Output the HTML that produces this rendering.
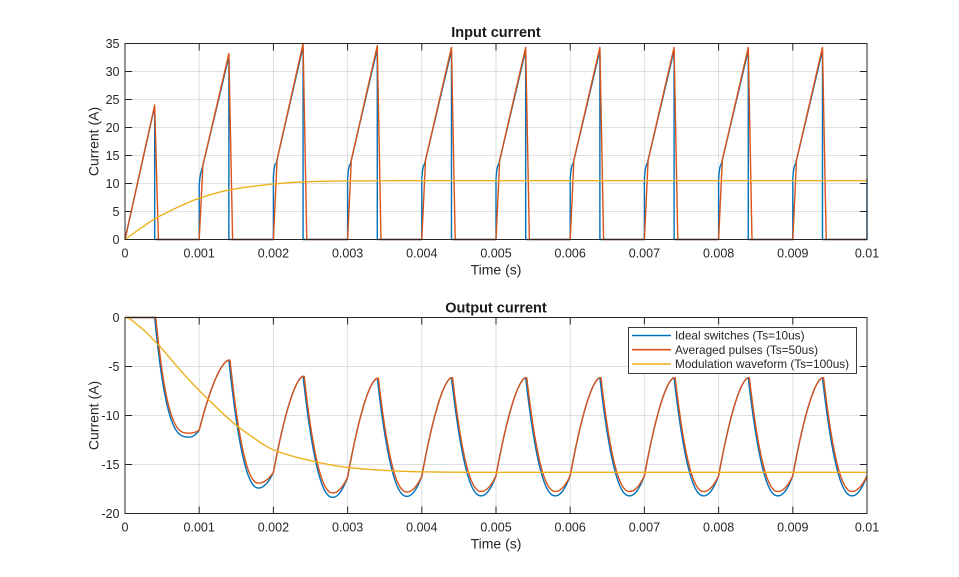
<!DOCTYPE html>
<html><head><meta charset="utf-8">
<style>
html,body{margin:0;padding:0;background:#fff;}
svg{display:block;}
text{font-family:"Liberation Sans",Arial,sans-serif;fill:#262626;}
.tk{font-size:12.5px;}
.lb{font-size:14px;}
.tt{font-size:14.5px;font-weight:bold;fill:#1a1a1a;}
.lg{font-size:11.8px;}
</style></head><body>
<svg width="959" height="577" viewBox="0 0 959 577" xmlns="http://www.w3.org/2000/svg">
<rect width="959" height="577" fill="#fff"/>
<defs>
<clipPath id="c1"><rect x="124" y="42" width="744" height="199"/></clipPath>
<clipPath id="c2"><rect x="124" y="316" width="744" height="199"/></clipPath>
</defs>

<!-- Plot 1 grid -->
<path fill="none" stroke="#dfdfdf" stroke-width="1" d="M199.2 43.5V239.5M273.4 43.5V239.5M347.6 43.5V239.5M421.8 43.5V239.5M496 43.5V239.5M570.2 43.5V239.5M644.4 43.5V239.5M718.6 43.5V239.5M792.8 43.5V239.5M125 71.5H867M125 99.5H867M125 127.5H867M125 155.5H867M125 183.5H867M125 211.5H867"/>
<!-- Plot 2 grid -->
<path fill="none" stroke="#dfdfdf" stroke-width="1" d="M199.2 317.5V513.5M273.4 317.5V513.5M347.6 317.5V513.5M421.8 317.5V513.5M496 317.5V513.5M570.2 317.5V513.5M644.4 317.5V513.5M718.6 317.5V513.5M792.8 317.5V513.5M125 366.5H867M125 415.5H867M125 464.5H867"/>

<!-- ticks -->
<path fill="none" stroke="#262626" stroke-width="1" d="M199.2 239.5v-7M199.2 43.5v7M273.4 239.5v-7M273.4 43.5v7M347.6 239.5v-7M347.6 43.5v7M421.8 239.5v-7M421.8 43.5v7M496 239.5v-7M496 43.5v7M570.2 239.5v-7M570.2 43.5v7M644.4 239.5v-7M644.4 43.5v7M718.6 239.5v-7M718.6 43.5v7M792.8 239.5v-7M792.8 43.5v7M125 71.5h7M867 71.5h-7M125 99.5h7M867 99.5h-7M125 127.5h7M867 127.5h-7M125 155.5h7M867 155.5h-7M125 183.5h7M867 183.5h-7M125 211.5h7M867 211.5h-7"/>
<path fill="none" stroke="#262626" stroke-width="1" d="M199.2 513.5v-7M199.2 317.5v7M273.4 513.5v-7M273.4 317.5v7M347.6 513.5v-7M347.6 317.5v7M421.8 513.5v-7M421.8 317.5v7M496 513.5v-7M496 317.5v7M570.2 513.5v-7M570.2 317.5v7M644.4 513.5v-7M644.4 317.5v7M718.6 513.5v-7M718.6 317.5v7M792.8 513.5v-7M792.8 317.5v7M125 366.5h7M867 366.5h-7M125 415.5h7M867 415.5h-7M125 464.5h7M867 464.5h-7"/>

<!-- curves -->
<g clip-path="url(#c1)" fill="none" stroke-width="1.4" stroke-linejoin="round">
<path id="b1" stroke="#0072BD"/>
<path id="o1" stroke="#D95319"/>
<path id="y1" stroke="#EDB120"/>
</g>
<g clip-path="url(#c2)" fill="none" stroke-width="1.4" stroke-linejoin="round">
<path id="b2" stroke="#0072BD"/>
<path id="o2" stroke="#D95319"/>
<path id="y2" stroke="#EDB120"/>
</g>

<!-- axes boxes -->
<rect x="125" y="43.5" width="742" height="196" fill="none" stroke="#262626" stroke-width="1"/>
<rect x="125" y="317.5" width="742" height="196" fill="none" stroke="#262626" stroke-width="1"/>

<!-- tick labels plot 1 -->
<g class="tk" text-anchor="end">
<text x="119.5" y="244">0</text>
<text x="119.5" y="216">5</text>
<text x="119.5" y="188">10</text>
<text x="119.5" y="160">15</text>
<text x="119.5" y="132">20</text>
<text x="119.5" y="104">25</text>
<text x="119.5" y="76">30</text>
<text x="119.5" y="48">35</text>
</g>
<g class="tk" text-anchor="middle">
<text x="125" y="257.5">0</text>
<text x="199.2" y="257.5">0.001</text>
<text x="273.4" y="257.5">0.002</text>
<text x="347.6" y="257.5">0.003</text>
<text x="421.8" y="257.5">0.004</text>
<text x="496" y="257.5">0.005</text>
<text x="570.2" y="257.5">0.006</text>
<text x="644.4" y="257.5">0.007</text>
<text x="718.6" y="257.5">0.008</text>
<text x="792.8" y="257.5">0.009</text>
<text x="867" y="257.5">0.01</text>
</g>
<!-- tick labels plot 2 -->
<g class="tk" text-anchor="end">
<text x="119.5" y="322">0</text>
<text x="119.5" y="371">-5</text>
<text x="119.5" y="420">-10</text>
<text x="119.5" y="469">-15</text>
<text x="119.5" y="518">-20</text>
</g>
<g class="tk" text-anchor="middle">
<text x="125" y="531.5">0</text>
<text x="199.2" y="531.5">0.001</text>
<text x="273.4" y="531.5">0.002</text>
<text x="347.6" y="531.5">0.003</text>
<text x="421.8" y="531.5">0.004</text>
<text x="496" y="531.5">0.005</text>
<text x="570.2" y="531.5">0.006</text>
<text x="644.4" y="531.5">0.007</text>
<text x="718.6" y="531.5">0.008</text>
<text x="792.8" y="531.5">0.009</text>
<text x="867" y="531.5">0.01</text>
</g>

<!-- labels & titles -->
<text class="tt" x="496" y="37" text-anchor="middle">Input current</text>
<text class="tt" x="496" y="312.5" text-anchor="middle">Output current</text>
<text class="lb" x="496" y="274.3" text-anchor="middle">Time (s)</text>
<text class="lb" x="496" y="548.3" text-anchor="middle">Time (s)</text>
<text class="lb" transform="translate(98.7,141.5) rotate(-90)" text-anchor="middle">Current (A)</text>
<text class="lb" transform="translate(98.7,415.5) rotate(-90)" text-anchor="middle">Current (A)</text>

<!-- legend -->
<rect x="628.5" y="327.5" width="228" height="46" fill="#fff" stroke="#262626" stroke-width="0.9"/>
<path d="M632 335.5H671" stroke="#0072BD" stroke-width="1.6"/>
<path d="M632 349.7H671" stroke="#D95319" stroke-width="1.6"/>
<path d="M632 364H671" stroke="#EDB120" stroke-width="1.6"/>
<text class="lg" x="675" y="339.7">Ideal switches (Ts=10us)</text>
<text class="lg" x="675" y="353.9">Averaged pulses (Ts=50us)</text>
<text class="lg" x="675" y="368.2">Modulation waveform (Ts=100us)</text>
</svg>

<script>
(function(){
function X(t){return 125+t*74200;}
function Y1(v){return 239.5-v*5.6;}
function Y2(v){return 317.5-v*9.8;}
function pathFrom(pts,Y){var s='';for(var i=0;i<pts.length;i++){s+=(i?'L':'M')+X(pts[i][0]).toFixed(2)+' '+Y(pts[i][1]).toFixed(2);}return s;}
function pchip(xs,ys,m0){
 var n=xs.length,h=[],d=[],m=[];
 for(var i=0;i<n-1;i++){h[i]=xs[i+1]-xs[i];d[i]=(ys[i+1]-ys[i])/h[i];}
 m[0]=(m0===undefined)?d[0]:m0;m[n-1]=d[n-2];
 for(var i=1;i<n-1;i++){
  if(d[i-1]*d[i]<=0)m[i]=0;
  else{var w1=2*h[i]+h[i-1],w2=h[i]+2*h[i-1];m[i]=(w1+w2)/(w1/d[i-1]+w2/d[i]);}
 }
 return function(x){
  var i=0;while(i<n-2&&x>xs[i+1])i++;
  var t=(x-xs[i])/h[i],t2=t*t,t3=t2*t;
  return (2*t3-3*t2+1)*ys[i]+(t3-2*t2+t)*h[i]*m[i]+(-2*t3+3*t2)*ys[i+1]+(t3-t2)*h[i]*m[i+1];
 };
}
// ---- Input current ----
var S1=[0,9.7,11.2,10.9,10.9,10.9,10.9,10.9,10.9,10.9];
var S2=[0,12.7,13.7,13.6,13.6,13.6,13.6,13.6,13.6,13.6];
var PK=[24,33.2,35.0,34.6,34.3,34.3,34.3,34.3,34.3,34.3];
var b=[[0,0],[0.00039,23.2],[0.0004,23.4],[0.0004,0]];
var o=[[0,0],[0.0004,24],[0.00045,0]];
for(var k=1;k<=9;k++){
 var t0=k*0.001;
 (function(k,t0){
  var L=function(t){return S2[k]+(PK[k]-S2[k])*(t-(t0+0.00004))/0.00036;};
  b.push([t0,0],[t0,S1[k]],[t0+0.00001,S1[k]+1.4],[t0+0.00002,S1[k]+2.1],[t0+0.00004,S2[k]],[t0+0.00038,L(t0+0.00038)-0.5],[t0+0.0004,L(t0+0.0004)-0.9],[t0+0.0004,0]);
  o.push([t0,0],[t0+0.00005,L(t0+0.00005)],[t0+0.0004,PK[k]],[t0+0.00045,0]);
 })(k,t0);
}
b.push([0.01,0],[0.01,10.9]);o.push([0.01,0]);
document.getElementById('b1').setAttribute('d',pathFrom(b,Y1));
document.getElementById('o1').setAttribute('d',pathFrom(o,Y1));
var fy1=pchip([0,0.0002,0.0004,0.0007,0.001,0.0014,0.0017,0.002,0.0024,0.003,0.004,0.01],
              [0,1.9,3.66,5.7,7.36,8.84,9.45,9.9,10.3,10.45,10.5,10.5]);
var yy=[];for(var t=0;t<=0.01+1e-9;t+=0.00002)yy.push([t,fy1(t)]);
document.getElementById('y1').setAttribute('d',pathFrom(yy,Y1));
// ---- Output current ----
var P=[0,-4.35,-6.0,-6.2,-6.15,-6.15,-6.15,-6.15,-6.15,-6.15];
var M=[-12.2,-17.4,-18.35,-18.25,-18.2,-18.2,-18.2,-18.2,-18.2,-18.2];
var E=[-11.5,-15.8,-16.3,-16.2,-16.15,-16.15,-16.15,-16.15,-16.15,-16.15];
function out(t,orange){
 var k=Math.floor(t/0.001+1e-9);if(k>9)k=9;
 var s=t-k*0.001;
 var shift=orange?0.000015:0;
 if(s<0.0004){
  if(k===0)return 0;
  var x=s/0.0004;
  return E[k-1]+(P[k]-E[k-1])*(1-Math.pow(1-x,1.65));
 }
 var d=(k===0?0.00047:0.0004)-shift;
 var u=s-0.0004-shift;
 var Mk=M[k]+(orange?(k===0?0.4:(k===1?0.5:0.45)):0);
 var p=(k===0?3:2.2);
 if(u<0)return P[k];
 if(u<d){var x2=u/d;return P[k]+(Mk-P[k])*(1-Math.pow(1-x2,p));}
 var x3=(u-d)/(0.0006-shift-d);if(x3>1)x3=1;
 return Mk+(E[k]-Mk)*x3*x3;
}
var bb=[],oo=[];
for(var i=0;i<=2000;i++){var t=i*0.000005;bb.push([t,out(t,false)]);oo.push([t,out(t,true)]);}
document.getElementById('b2').setAttribute('d',pathFrom(bb,Y2));
document.getElementById('o2').setAttribute('d',pathFrom(oo,Y2));
var fy2=pchip([0,0.0002,0.00043,0.00083,0.001,0.00112,0.0015,0.00168,0.002,0.0025,0.003,0.0035,0.004,0.005,0.01],
              [0,-0.95,-2.65,-6.1,-7.45,-8.35,-11.0,-12.0,-13.5,-14.6,-15.3,-15.6,-15.75,-15.8,-15.8],0);
var y2=[];for(var t=0;t<=0.01+1e-9;t+=0.00002)y2.push([t,fy2(t)]);
document.getElementById('y2').setAttribute('d',pathFrom(y2,Y2));
})();
</script>
</body></html>
